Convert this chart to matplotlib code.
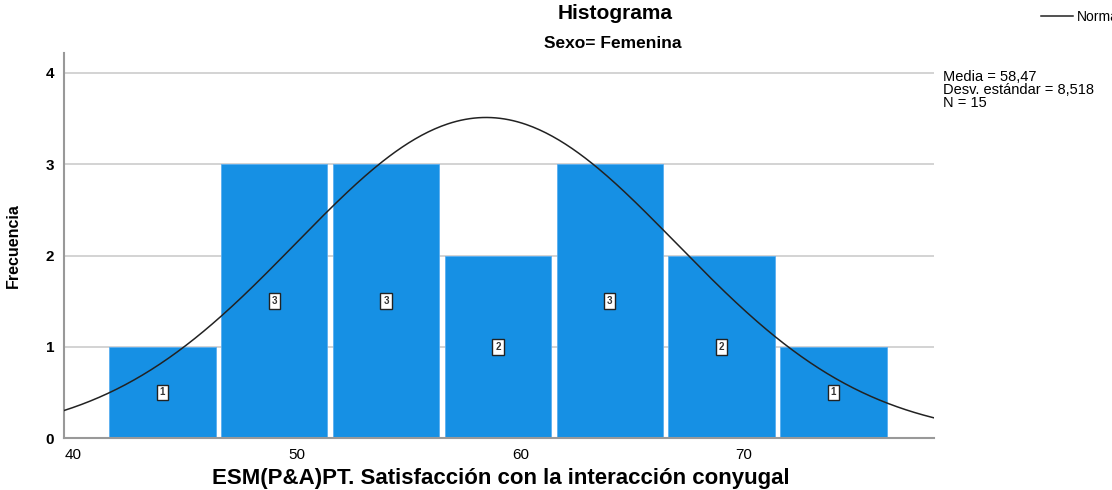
import numpy as np
import matplotlib
matplotlib.use("Agg")
import matplotlib.pyplot as plt

# datos del histograma (Sexo = Femenina)
centros = [44, 49, 54, 59, 64, 69, 74]
frecuencias = [1, 3, 3, 2, 3, 2, 1]
media = 58.47
desv = 8.518
n = 15
ancho_bin = 5

plt.rcParams['font.family'] = ['Liberation Sans', 'DejaVu Sans']

fig = plt.figure(figsize=(11.12, 4.9), dpi=100)
ax = fig.add_axes([0.0576, 0.106, 0.7824, 0.786])

ax.bar(centros, frecuencias, width=4.75, color="#1690e4", edgecolor="#5aaef0",
       linewidth=0.6, zorder=2)

for c, f in zip(centros, frecuencias):
    ax.text(c, f / 2, str(f), ha="center", va="center", fontsize=7,
            fontweight="bold", color="#333333", zorder=4,
            bbox=dict(boxstyle="square,pad=0.3", fc="white", ec="#222222", lw=1.0))

x = np.linspace(39.6, 78.5, 400)
y = n * ancho_bin / (desv * np.sqrt(2 * np.pi)) * np.exp(-0.5 * ((x - media) / desv) ** 2)
curva, = ax.plot(x, y, color="#222222", linewidth=1.1, zorder=3)

ax.set_xlim(39.6, 78.5)
ax.set_ylim(0, 4.22)
ax.set_xticks([40, 50, 60, 70])
ax.set_yticks([0, 1, 2, 3, 4])
ax.yaxis.grid(True, color="#cccccc", linewidth=1.2, zorder=0)
ax.set_axisbelow(True)
for s in ["top", "right"]:
    ax.spines[s].set_visible(False)
for s in ["left", "bottom"]:
    ax.spines[s].set_color("#999999")
    ax.spines[s].set_linewidth(1.5)
ax.tick_params(length=0, labelsize=11, pad=7)
for lab in ax.get_yticklabels():
    lab.set_fontweight("bold")

ax.set_ylabel("Frecuencia", fontsize=11.5, fontweight="bold", labelpad=18)

fig.text(0.45, 0.024, "ESM(P&A)PT. Satisfacción con la interacción conyugal",
         ha="center", va="center", fontsize=16, fontweight="bold")

fig.text(0.553, 0.972, "Histograma", ha="center", va="center", fontsize=15, fontweight="bold")
fig.text(0.551, 0.912, "Sexo= Femenina", ha="center", va="center", fontsize=12.5, fontweight="bold")

fig.text(0.848, 0.857, "Media = 58,47\nDesv. estándar = 8,518\nN = 15",
         ha="left", va="top", fontsize=10.5, linespacing=0.9)

fig.legend([curva], ["Normal"], loc="upper left", bbox_to_anchor=(0.925, 1.005),
           frameon=False, fontsize=10, handlelength=2.3, handletextpad=0.3)

fig.savefig("out.png", dpi=100)
